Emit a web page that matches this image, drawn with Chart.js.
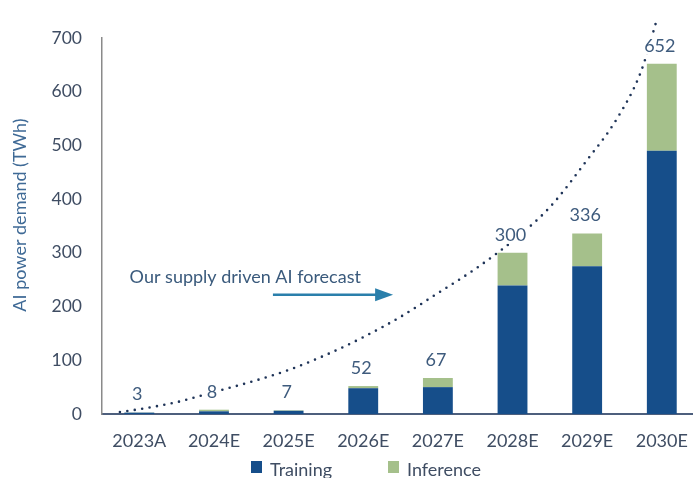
<!DOCTYPE html>
<html>
<head>
<meta charset="utf-8">
<script src="https://cdn.jsdelivr.net/npm/chart.js@4"></script>
<style>
  html, body { margin: 0; padding: 0; background: #fff; overflow: hidden; }
  #wrap { width: 704px; height: 478px; }
</style>
</head>
<body>
<div id="wrap"><canvas id="c" width="704" height="478"></canvas></div>
<script>
// ---- data ----
const categories = ['2023A', '2024E', '2025E', '2026E', '2027E', '2028E', '2029E', '2030E'];
const training   = [2.5, 5, 6, 48, 50, 239, 275, 490];
const inference  = [0.5, 3, 1, 4, 17, 61, 61, 162];
const totalLabels = ['3', '8', '7', '52', '67', '300', '336', '652'];
// dotted trend: x = category index (fractional), y = TWh
const trendX = [-0.26, 0, 0.5, 1, 1.5, 2, 2.5, 3, 3.5, 4, 4.5, 5, 5.5, 6, 6.4, 6.72, 6.94];
const trendY = [3.7, 9, 22, 41, 60, 82, 110, 143, 181, 225, 270, 322, 385, 473, 550, 637, 737];
const yTicks = [0, 100, 200, 300, 400, 500, 600, 700];
const yTitle = 'AI power demand (TWh)';
const annotationText = 'Our supply driven AI forecast';
const annotationPos = { x: -0.13, y: 255 };
const arrowPos = { x1: 1.79, x2: 3.40, y: 222 };

const FONT = 'Lato, "Open Sans", sans-serif';
const C_TRAIN = '#164e8a';
const C_INF = '#a5c08b';
const C_TICK = '#3f4d63';
const C_LABEL = '#3e5b7d';

const trendData = trendX.map((x, i) => ({ x, y: trendY[i] }));

const overlay = {
  id: 'overlay',
  afterDatasetsDraw(chart) {
    const ctx = chart.ctx;
    const x = chart.scales.x, y = chart.scales.y, xt = chart.scales.xt;
    ctx.save();
    ctx.font = '18px ' + FONT;
    ctx.textAlign = 'center';
    ctx.textBaseline = 'middle';
    categories.forEach((c, i) => {
      const total = training[i] + inference[i];
      const px = x.getPixelForValue(i) - 2;
      const py = y.getPixelForValue(total) - 18;
      const w = ctx.measureText(totalLabels[i]).width;
      ctx.fillStyle = '#fff';
      ctx.fillRect(px - w / 2 - 2, py - 9, w + 4, 18);
      ctx.fillStyle = C_LABEL;
      ctx.fillText(totalLabels[i], px, py);
    });
    // annotation text
    ctx.textAlign = 'left';
    ctx.fillStyle = '#3a5a7c';
    ctx.fillText(annotationText, xt.getPixelForValue(annotationPos.x), y.getPixelForValue(annotationPos.y));
    // arrow
    const ax1 = xt.getPixelForValue(arrowPos.x1), ax2 = xt.getPixelForValue(arrowPos.x2);
    const ay = y.getPixelForValue(arrowPos.y);
    ctx.strokeStyle = '#2a7fab';
    ctx.fillStyle = '#2a7fab';
    ctx.lineWidth = 2.5;
    ctx.beginPath();
    ctx.moveTo(ax1, ay);
    ctx.lineTo(ax2 - 14, ay);
    ctx.stroke();
    ctx.beginPath();
    ctx.moveTo(ax2, ay);
    ctx.lineTo(ax2 - 18, ay - 6.5);
    ctx.lineTo(ax2 - 18, ay + 6.5);
    ctx.closePath();
    ctx.fill();
    // y-axis title
    ctx.save();
    ctx.translate(20, 215);
    ctx.rotate(-Math.PI / 2);
    ctx.textAlign = 'center';
    ctx.fillStyle = '#3f6a96';
    ctx.fillText(yTitle, 0, 0);
    ctx.restore();
    // legend
    const items = chart.data.datasets.filter(d => d.type !== 'line');
    const legendX = [251, 388];
    items.forEach((d, i) => {
      ctx.fillStyle = d.backgroundColor;
      ctx.fillRect(legendX[i], 461, 11, 12);
      ctx.fillStyle = C_TICK;
      ctx.textAlign = 'left';
      ctx.textBaseline = 'alphabetic';
      ctx.fillText(d.label, legendX[i] + 19, 476);
    });
    ctx.restore();
  }
};

new Chart(document.getElementById('c'), {
  type: 'bar',
  data: {
    labels: categories,
    datasets: [
      { label: 'Training', data: training, backgroundColor: C_TRAIN, stack: 's', order: 2,
        grouped: false, barPercentage: 0.4, categoryPercentage: 1 },
      { label: 'Inference', data: inference, backgroundColor: C_INF, stack: 's', order: 2,
        grouped: false, barPercentage: 0.4, categoryPercentage: 1 },
      { type: 'line', label: 'trend', data: trendData, xAxisID: 'xt', order: 1,
        borderColor: '#1f3458', borderWidth: 2.6, borderDash: [0, 7.5], borderCapStyle: 'round',
        pointRadius: 0, cubicInterpolationMode: 'monotone', fill: false, clip: false }
    ]
  },
  options: {
    responsive: false,
    animation: false,
    layout: { padding: { top: 38, right: 2, left: 0, bottom: 0 } },
    plugins: { legend: { display: false }, tooltip: { enabled: false } },
    scales: {
      x: {
        stacked: true,
        grid: { display: false, drawTicks: false },
        border: { display: true, color: '#4d5f7d', width: 2 },
        ticks: { color: C_TICK, font: { family: FONT, size: 18 }, padding: 16, maxRotation: 0 },
        afterFit(s) { s.height = 64; }
      },
      xt: { type: 'linear', display: false, min: -0.5, max: 7.5, offset: false,
            grid: { offset: false } },
      y: {
        stacked: true,
        min: 0, max: 700,
        afterBuildTicks(s) { s.ticks = yTicks.map(v => ({ value: v })); },
        grid: { display: false, drawTicks: false },
        border: { display: true, color: '#8a8a8a', width: 1.5 },
        ticks: { color: C_TICK, font: { family: FONT, size: 17.5 }, padding: 20 },
        afterFit(s) { s.width = 102; }
      }
    }
  },
  plugins: [overlay]
});
</script>
</body>
</html>
